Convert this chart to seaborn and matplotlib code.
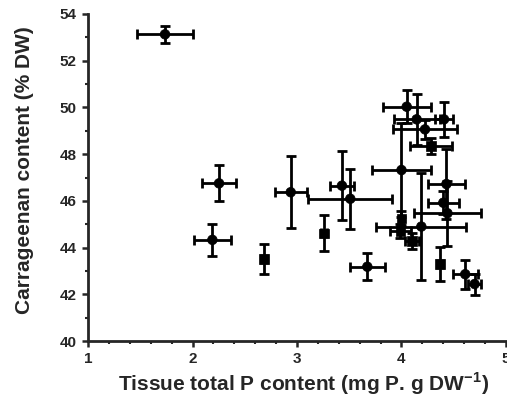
import matplotlib
matplotlib.use("Agg")
import matplotlib.pyplot as plt
import seaborn as sns
import pandas as pd
from matplotlib.ticker import MultipleLocator

# Data
p_content = [1.737, 2.254, 2.19, 2.684, 2.94, 3.258, 3.43, 3.51, 3.673, 4.0,
             4.05, 4.145, 4.225, 4.407, 4.28, 4.19, 4.43, 4.40, 4.44, 4.37,
             4.61, 4.70, 4.0, 3.99, 4.1]
carrageenan = [53.13, 46.75, 44.33, 43.51, 46.37, 44.61, 46.65, 46.09, 43.18, 47.32,
               50.03, 49.49, 49.06, 49.49, 48.35, 44.9, 46.72, 45.92, 45.47, 43.30,
               42.86, 42.44, 45.25, 44.72, 44.28]
p_err = [0.27, 0.16, 0.18, 0.03, 0.155, 0.03, 0.115, 0.40, 0.17, 0.285,
         0.23, 0.22, 0.31, 0.09, 0.2, 0.43, 0.18, 0.15, 0.32, 0.03,
         0.12, 0.06, 0.0, 0.1, 0.07]
carr_err = [0.37, 0.77, 0.68, 0.64, 1.55, 0.77, 1.49, 1.28, 0.57, 2.0,
            0.7, 1.1, 0.4, 0.75, 0.35, 2.3, 1.5, 0.5, 1.4, 0.73,
            0.62, 0.45, 0.3, 0.3, 0.36]
shape = ["c", "c", "c", "s", "c", "s", "c", "c", "c", "c",
         "c", "c", "c", "c", "s", "c", "c", "c", "c", "s",
         "c", "c", "s", "s", "s"]

df = pd.DataFrame({"P": p_content, "C": carrageenan, "xe": p_err, "ye": carr_err, "shape": shape})

sns.set_style("ticks")
plt.rcParams["font.family"] = ["Liberation Sans", "DejaVu Sans"]
plt.rcParams["mathtext.fontset"] = "custom"
plt.rcParams["mathtext.rm"] = "Liberation Sans:bold"
plt.rcParams["mathtext.bf"] = "Liberation Sans:bold"

fig = plt.figure(figsize=(5.07, 4.01), dpi=100)
ax = fig.add_axes([0.1736, 0.1496, 0.8244, 0.8155])

ax.errorbar(df["P"], df["C"], xerr=df["xe"], yerr=df["ye"], fmt="none",
            ecolor="black", elinewidth=2.0, capsize=3.4, capthick=2.0, zorder=2)
sns.scatterplot(data=df, x="P", y="C", style="shape", markers={"c": "o", "s": "s"},
                color="black", s=48, edgecolor="black", linewidth=0.5,
                legend=False, ax=ax, zorder=3)

ax.set_xlim(1, 5)
ax.set_ylim(40, 54)
ax.xaxis.set_major_locator(MultipleLocator(1))
ax.xaxis.set_minor_locator(MultipleLocator(0.2))
ax.yaxis.set_major_locator(MultipleLocator(2))
ax.yaxis.set_minor_locator(MultipleLocator(1))
ax.tick_params(which="major", direction="out", length=4, width=1.8, labelsize=11, pad=4)
ax.tick_params(which="minor", direction="out", length=2.5, width=1.5)
for lab in ax.get_xticklabels() + ax.get_yticklabels():
    lab.set_fontweight("bold")

sns.despine(ax=ax)
for sp in ["left", "bottom"]:
    ax.spines[sp].set_linewidth(2.0)

ax.set_xlabel(r"Tissue total P content (mg P. g DW$^{\mathbf{-1}}$)",
              fontsize=15, fontweight="bold")
ax.set_ylabel("Carrageenan content (% DW)", fontsize=15, fontweight="bold")
ax.xaxis.set_label_coords(0.515, -0.09)
ax.yaxis.set_label_coords(-0.13, 0.523)

fig.savefig("out.png", dpi=100)
